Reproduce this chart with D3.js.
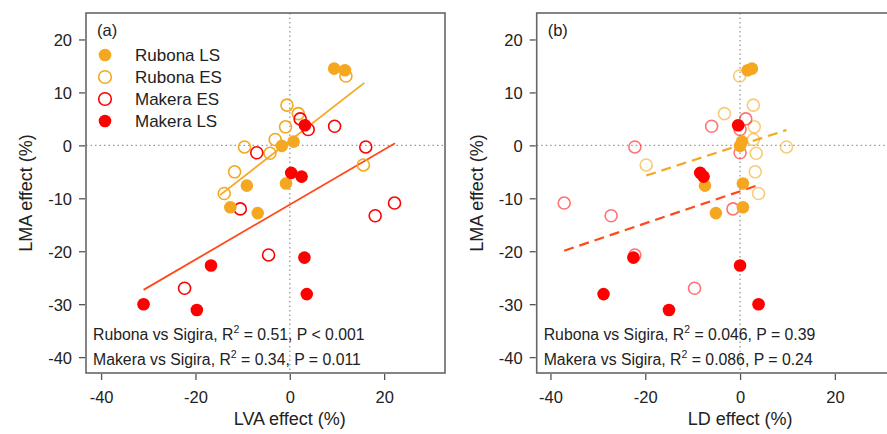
<!DOCTYPE html>
<html><head><meta charset="utf-8">
<script src="https://cdn.jsdelivr.net/npm/d3@7"></script>
<style>body{margin:0;background:#fff}svg{display:block;font-family:Arial,"Liberation Sans",sans-serif}</style>
</head><body>
<script>
// ---- data ----
const seriesNames = ["Rubona LS", "Rubona ES", "Makera ES", "Makera LS"];
const yRubonaLS = [14.5, 14.2, 0.7, -0.1, -7.6, -7.2, -11.7, -12.8];
const lvaRubonaLS = [9.4, 11.7, 0.8, -1.7, -9.1, -0.8, -12.6, -6.8];
const ldRubonaLS = [2.5, 1.6, 0.4, 0.0, -7.4, 0.6, 0.6, -5.1];

const yRubonaES = [7.6, 6.0, 3.5, 1.1, -1.5, -0.3, -5.0, -9.1, 13.1, -3.7];
const lvaRubonaES = [-0.6, 1.8, -0.9, -3.1, -4.2, -9.6, -11.7, -13.9, 11.9, 15.6];
const ldRubonaES = [2.8, -3.3, 3.0, 2.8, 3.4, 9.8, 3.2, 3.9, -0.1, -19.8];

const yMakeraES = [-1.4, 3.6, -0.3, 5.0, 3.0, -12.0, -13.3, -10.9, -20.7, -27.0];
const lvaMakeraES = [-7.0, 9.5, 16.1, 2.2, 3.9, -10.5, 18.1, 22.2, -4.5, -22.3];
const ldMakeraES = [0.0, -6.0, -22.2, 1.2, 0.0, -1.5, -27.2, -37.1, -22.2, -9.6];

const yMakeraLS = [3.8, -5.2, -5.9, -21.2, -28.1, -22.7, -31.1, -30.0];
const lvaMakeraLS = [3.2, 0.3, 2.5, 3.1, 3.6, -16.7, -19.7, -31.0];
const ldMakeraLS = [-0.4, -8.4, -7.7, -22.5, -28.8, 0.0, -15.0, 3.9];

// regression line end points [x1, x2], [y1, y2]
const lvaRubonaFitX = [-14.8, 15.8], lvaRubonaFitY = [-9.4, 11.8];
const lvaMakeraFitX = [-31.0, 22.3], lvaMakeraFitY = [-27.3, 0.4];
const ldRubonaFitX = [-19.8, 9.8], ldRubonaFitY = [-5.7, 2.9];
const ldMakeraFitX = [-37.1, 3.9], ldMakeraFitY = [-19.9, -7.5];

const xTicks = [-40, -20, 0, 20];
const yTicks = [20, 10, 0, -10, -20, -30, -40];
const statsA = [["Rubona vs Sigira, R", "2", " = 0.51, P < 0.001"], ["Makera vs Sigira, R", "2", " = 0.34, P = 0.011"]];
const statsB = [["Rubona vs Sigira, R", "2", " = 0.046, P = 0.39"], ["Makera vs Sigira, R", "2", " = 0.086, P = 0.24"]];

// ---- drawing ----
const ORANGE = "#F5A81F", RED = "#FF0000", REDLINE = "#FF4A1A";
const svg = d3.select("body").append("svg").attr("width", 887).attr("height", 434);

function panel(opt) {
  const x = d3.scaleLinear().domain(opt.xDomain).range([opt.left, opt.right]);
  const y = d3.scaleLinear().domain([-43, 25]).range([373, 13]);
  const g = svg.append("g");
  // zero reference lines
  g.append("line").attr("x1", x(0)).attr("x2", x(0)).attr("y1", 13).attr("y2", 373)
    .attr("stroke", "#999").attr("stroke-width", 1.3).attr("stroke-dasharray", "1.5,3");
  g.append("line").attr("x1", opt.left).attr("x2", opt.right).attr("y1", y(0)).attr("y2", y(0))
    .attr("stroke", "#999").attr("stroke-width", 1.3).attr("stroke-dasharray", "1.5,3");
  // axes
  const fmt = d => String(d);
  const ya = g.append("g").attr("transform", `translate(${opt.left - 1},0)`)
    .call(d3.axisLeft(y).tickValues(yTicks).tickSize(6).tickPadding(7).tickFormat(fmt));
  const xa = g.append("g").attr("transform", `translate(0,${374})`)
    .call(d3.axisBottom(x).tickValues(xTicks).tickSize(6).tickPadding(11).tickFormat(fmt));
  [ya, xa].forEach(a => {
    a.select(".domain").remove();
    a.selectAll(".tick line").attr("stroke", "#555").attr("stroke-width", 1.3);
    a.selectAll("text").attr("font-size", 16.5).attr("fill", "#222").attr("font-family", "Arial, 'Liberation Sans', sans-serif");
  });
  ya.selectAll("text").attr("dy", "0.36em");
  // box
  g.append("rect").attr("x", opt.left).attr("y", 13).attr("width", opt.right - opt.left).attr("height", 360)
    .attr("fill", "none").attr("stroke", "#666").attr("stroke-width", 1.6);
  // labels
  g.append("text").attr("transform", `translate(${opt.left - 54},193) rotate(-90)`)
    .attr("text-anchor", "middle").attr("font-size", 18).attr("fill", "#222").text("LMA effect (%)");
  g.append("text").attr("x", x(0)).attr("y", 425).attr("text-anchor", "middle")
    .attr("font-size", 18).attr("fill", "#222").text(opt.xlabel);
  g.append("text").attr("x", opt.left + 11).attr("y", 36).attr("font-size", 16.5).attr("fill", "#222").text(opt.tag);

  // regression lines
  opt.fits.forEach(f => {
    g.append("line").attr("x1", x(f.xs[0])).attr("y1", y(f.ys[0])).attr("x2", x(f.xs[1])).attr("y2", y(f.ys[1]))
      .attr("stroke", f.color).attr("stroke-width", f.dash ? 2.2 : 1.8)
      .attr("stroke-dasharray", f.dash ? "10,6" : null);
  });
  // points
  opt.series.forEach(s => {
    g.append("g").selectAll("circle").data(s.xs.map((v, i) => [v, s.ys[i]])).join("circle")
      .attr("cx", d => x(d[0])).attr("cy", d => y(d[1])).attr("r", s.filled ? 6.3 : 6)
      .attr("fill", s.filled ? s.color : "none")
      .attr("stroke", s.color).attr("stroke-width", s.filled ? 0 : 1.6)
      .attr("opacity", s.filled ? 1 : s.openOpacity);
  });
  // stats text
  opt.stats.forEach((t, i) => {
    const tx = g.append("text").attr("x", opt.left + 7).attr("y", 340 + i * 25).attr("font-size", 15.8).attr("fill", "#222");
    tx.append("tspan").text(t[0]);
    tx.append("tspan").attr("font-size", 10.5).attr("dy", -7).text(t[1]);
    tx.append("tspan").attr("dy", 7).text(t[2]);
  });
  return {g, x, y};
}

const A = panel({
  left: 86, right: 445, xDomain: [-43.2, 32.9], xlabel: "LVA effect (%)", tag: "(a)", stats: statsA,
  fits: [
    {xs: lvaRubonaFitX, ys: lvaRubonaFitY, color: ORANGE, dash: false},
    {xs: lvaMakeraFitX, ys: lvaMakeraFitY, color: REDLINE, dash: false}
  ],
  series: [
    {xs: lvaRubonaES, ys: yRubonaES, color: ORANGE, filled: false, openOpacity: 1},
    {xs: lvaMakeraES, ys: yMakeraES, color: RED, filled: false, openOpacity: 1},
    {xs: lvaRubonaLS, ys: yRubonaLS, color: ORANGE, filled: true},
    {xs: lvaMakeraLS, ys: yMakeraLS, color: RED, filled: true}
  ]
});

panel({
  left: 536.7, right: 896.5, xDomain: [-42.9, 33.0], xlabel: "LD effect (%)", tag: "(b)", stats: statsB,
  fits: [
    {xs: ldRubonaFitX, ys: ldRubonaFitY, color: ORANGE, dash: true},
    {xs: ldMakeraFitX, ys: ldMakeraFitY, color: REDLINE, dash: true}
  ],
  series: [
    {xs: ldRubonaES, ys: yRubonaES, color: ORANGE, filled: false, openOpacity: 0.6},
    {xs: ldMakeraES, ys: yMakeraES, color: RED, filled: false, openOpacity: 0.55},
    {xs: ldRubonaLS, ys: yRubonaLS, color: ORANGE, filled: true},
    {xs: ldMakeraLS, ys: yMakeraLS, color: RED, filled: true}
  ]
});

// legend (panel a)
const legColors = [ORANGE, ORANGE, RED, RED];
const legFilled = [true, false, false, true];
const leg = A.g.append("g");
seriesNames.forEach((n, i) => {
  const cy = 55 + i * 22;
  leg.append("circle").attr("cx", 105).attr("cy", cy).attr("r", 6.3)
    .attr("fill", legFilled[i] ? legColors[i] : "none").attr("stroke", legColors[i])
    .attr("stroke-width", legFilled[i] ? 0 : 1.6);
  leg.append("text").attr("x", 135).attr("y", cy + 6).attr("font-size", 17).attr("fill", "#222").text(n);
});
</script>
</body></html>
